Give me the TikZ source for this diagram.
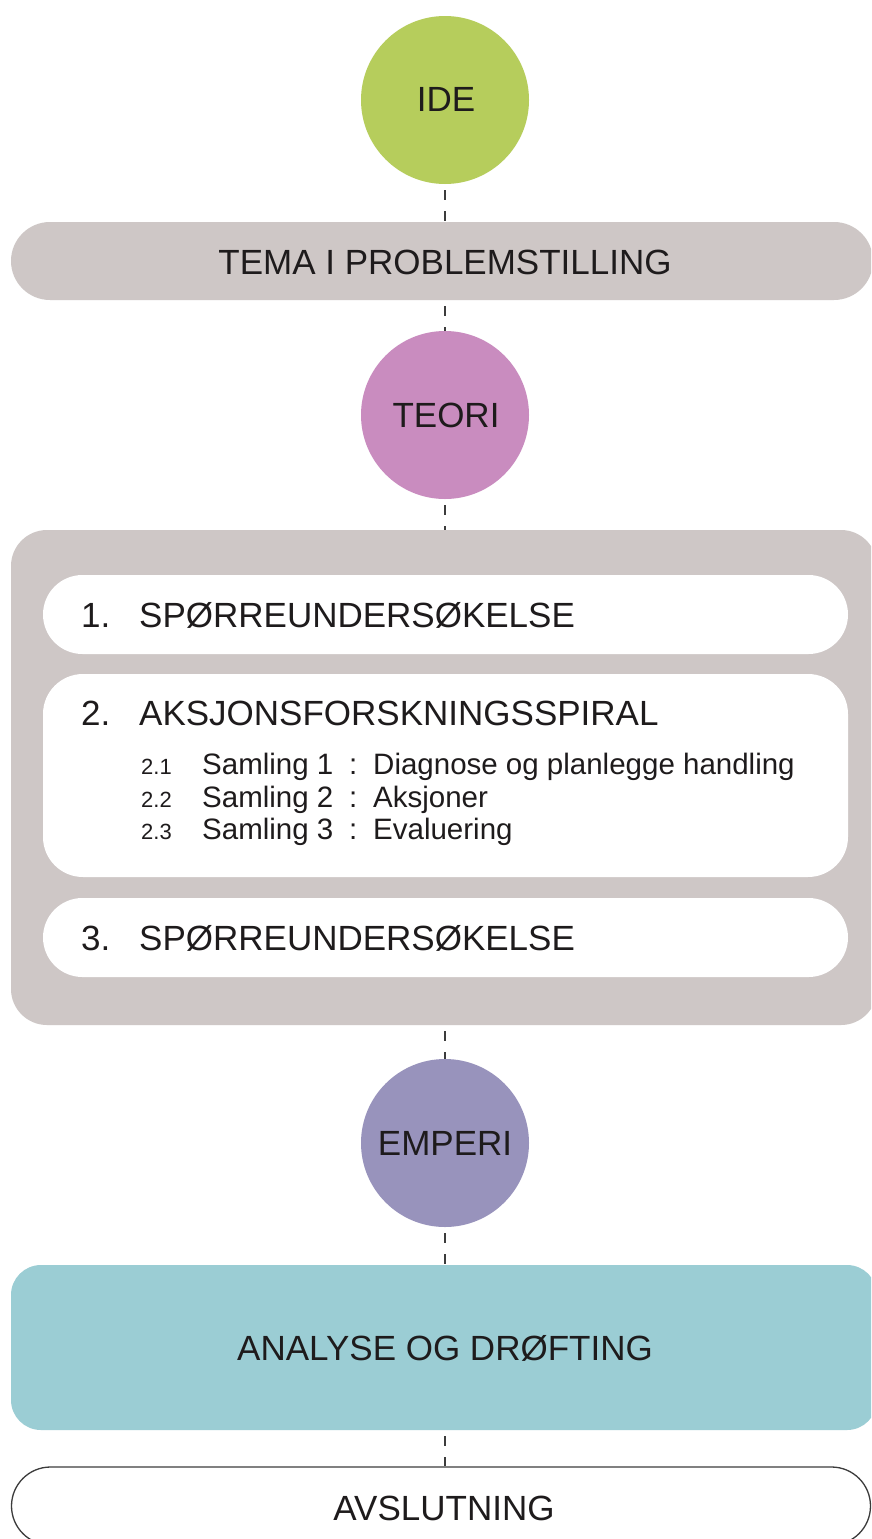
\documentclass[tikz,border=0pt]{standalone}
\usepackage{fontspec}
\setmainfont{Liberation Sans}
\usetikzlibrary{positioning}

\definecolor{ideGreen}{RGB}{182,205,92}
\definecolor{teoriPink}{RGB}{201,140,191}
\definecolor{emperiPurple}{RGB}{152,147,188}
\definecolor{panelGray}{RGB}{206,199,198}
\definecolor{analyseTeal}{RGB}{155,205,212}
\definecolor{inkDark}{RGB}{30,27,28}
\definecolor{dashInk}{RGB}{60,60,60}

\tikzset{
  stage/.style={circle, minimum size=168pt, inner sep=0pt, draw=none},
  band/.style={rectangle, inner sep=0pt, draw=none},
  label/.style={anchor=base, text=inkDark, inner sep=0pt, font=\fontsize{35}{41}\selectfont},
  sublabel/.style={anchor=base west, text=inkDark, inner sep=0pt, font=\fontsize{29.5}{35}\selectfont},
  subnum/.style={anchor=base west, text=inkDark, inner sep=0pt, font=\fontsize{22}{26}\selectfont},
  link/.style={draw=dashInk, line width=1.6pt, dash pattern=on 10pt off 11pt, dash phase=-6pt},
}

\begin{document}
\begin{tikzpicture}[x=1pt, y=-1pt]
\useasboundingbox (0,0) rectangle (871,1539);
\clip (0,0) rectangle (871,1539);
\fill[white] (0,0) rectangle (871,1539);

% circles
\node[stage, fill=ideGreen] (ide) at (445,100) {};
\node[stage, fill=teoriPink] (teori) at (445,415) {};
\node[stage, fill=emperiPurple] (emperi) at (445,1143) {};

% bands
\node[band, fill=panelGray, rounded corners=39pt, minimum width=862pt, minimum height=78pt] (tema) at (442,261) {};
\node[band, fill=panelGray, rounded corners=36pt, minimum width=866pt, minimum height=495pt] (panel) at (444,777.5) {};
\node[band, fill=white, rounded corners=39.5pt, minimum width=805pt, minimum height=79pt] (sp1) at (445.5,614.5) {};
\node[band, fill=white, rounded corners=40pt, minimum width=805pt, minimum height=203pt] (spiral) at (445.5,775.5) {};
\node[band, fill=white, rounded corners=39.5pt, minimum width=805pt, minimum height=79pt] (sp3) at (445.5,937.5) {};
\node[band, fill=analyseTeal, rounded corners=30pt, minimum width=866pt, minimum height=165pt] (analyse) at (444,1347.5) {};
\node[band, fill=white, draw=dashInk, line width=1.3pt, rounded corners=39pt, minimum width=859pt, minimum height=78pt] (avslutning) at (441,1506) {};

% dashed links
\draw[link] (ide.south) -- (tema.north -| ide.south);
\draw[link] (tema.south -| teori.north) -- (teori.north);
\draw[link] (teori.south) -- (panel.north -| teori.south);
\draw[link] (panel.south -| emperi.north) -- (emperi.north);
\draw[link] (emperi.south) -- (analyse.north -| emperi.south);
\draw[link] (analyse.south -| emperi.south) -- (avslutning.north -| emperi.south);

% texts
\node[label] (tIde) at (446,111) {IDE};
\node[label] (tTema) at (445,274) {TEMA I PROBLEMSTILLING};
\node[label] (tTeori) at (446,427) {TEORI};
\node[label] (tEmperi) at (445,1155) {EMPERI};
\node[label] (tAnalyse) at (445,1360) {ANALYSE OG DRØFTING};
\node[label] (tAvsl) at (444,1520) {AVSLUTNING};

\node[label, anchor=base west] (n1) at (81,627) {1.};
\node[label, anchor=base west] (h1) at (139,627) {SPØRREUNDERSØKELSE};
\node[label, anchor=base west] (n2) at (81,725) {2.};
\node[label, anchor=base west] (h2) at (139,725) {AKSJONSFORSKNINGSSPIRAL};
\node[label, anchor=base west] (n3) at (81,950) {3.};
\node[label, anchor=base west] (h3) at (139,950) {SPØRREUNDERSØKELSE};

\node[subnum] (s1n) at (141,774) {2.1};
\node[sublabel] (s1a) at (202,774) {Samling 1};
\node[sublabel] (s1c) at (349,774) {:};
\node[sublabel] (s1b) at (373,774) {Diagnose og planlegge handling};
\node[subnum] (s2n) at (141,807) {2.2};
\node[sublabel] (s2a) at (202,807) {Samling 2};
\node[sublabel] (s2c) at (349,807) {:};
\node[sublabel] (s2b) at (373,807) {Aksjoner};
\node[subnum] (s3n) at (141,839) {2.3};
\node[sublabel] (s3a) at (202,839) {Samling 3};
\node[sublabel] (s3c) at (349,839) {:};
\node[sublabel] (s3b) at (373,839) {Evaluering};
\end{tikzpicture}
\end{document}
